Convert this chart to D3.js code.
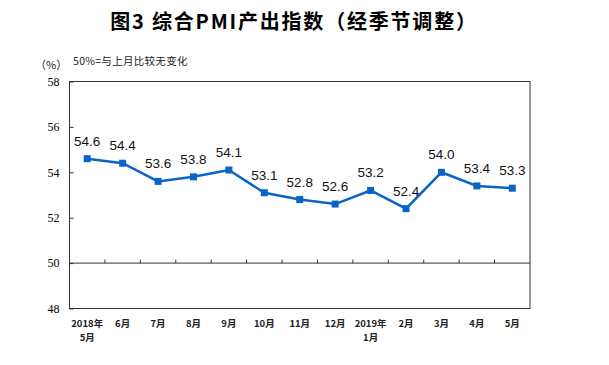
<!DOCTYPE html>
<html><head><meta charset="utf-8">
<script src="https://cdn.jsdelivr.net/npm/d3@7"></script>
<style>body{margin:0;background:#fff;}</style>
</head><body>
<svg id="c" width="609" height="365"></svg>
<script>
const categories = [["2018年","5月"],["6月"],["7月"],["8月"],["9月"],["10月"],["11月"],["12月"],["2019年","1月"],["2月"],["3月"],["4月"],["5月"]];
const values = [54.6, 54.4, 53.6, 53.8, 54.1, 53.1, 52.8, 52.6, 53.2, 52.4, 54.0, 53.4, 53.3];
const yTicks = [48, 50, 52, 54, 56, 58];
const title = "图3 综合PMI产出指数（经季节调整）";
const unitLabel = "（%）";
const note = "50%=与上月比较无变化";

const svg = d3.select("#c");
const L = 69.5, R = 530, T = 81.5, B = 308.5;
const x = d3.scaleBand().domain(d3.range(categories.length)).range([L, R]);
const y = d3.scaleLinear().domain([48, 58]).range([B, T]);

svg.append("text").attr("x", 294).attr("y", 29).attr("text-anchor", "middle")
  .attr("font-family", "Noto Sans CJK SC").attr("font-weight", "bold").attr("font-size", 20)
  .attr("letter-spacing", 1.8).attr("fill", "#000").text(title);
svg.append("text").attr("x", 35).attr("y", 69).attr("font-family", "Noto Sans CJK SC")
  .attr("font-size", 11).attr("fill", "#222").text(unitLabel);
svg.append("text").attr("x", 73).attr("y", 65).attr("font-family", "Noto Sans CJK SC")
  .attr("font-size", 10.5).attr("letter-spacing", 0.3).attr("fill", "#222").text(note);

// frame
svg.append("rect").attr("x", L).attr("y", T).attr("width", R - L).attr("height", B - T)
  .attr("fill", "none").attr("stroke", "#333").attr("stroke-width", 1);

// y axis
const ya = svg.append("g").attr("transform", `translate(${L},0)`)
  .call(d3.axisLeft(y).tickValues(yTicks).tickSize(-4).tickPadding(10));
ya.select(".domain").remove();
ya.selectAll("line").attr("stroke", "#333");
ya.selectAll("text").attr("font-family", "Liberation Serif").attr("font-size", 12).attr("fill", "#000");

// category axis at 50
const y50 = y(50);
svg.append("line").attr("x1", L).attr("x2", R).attr("y1", y50).attr("y2", y50)
  .attr("stroke", "#333").attr("stroke-width", 1);
svg.append("g").selectAll("line").data(d3.range(1, categories.length)).join("line")
  .attr("x1", i => x(i)).attr("x2", i => x(i)).attr("y1", y50).attr("y2", y50 - 3.5)
  .attr("stroke", "#333");

// x labels
const xl = svg.append("g").selectAll("text").data(categories).join("text")
  .attr("x", (d, i) => x(i) + x.bandwidth() / 2).attr("y", 327)
  .attr("text-anchor", "middle").attr("font-family", "Noto Sans CJK SC")
  .attr("font-weight", "bold").attr("font-size", 9.5).attr("fill", "#222");
xl.selectAll("tspan").data(d => d).join("tspan")
  .attr("x", function() { return this.parentNode.getAttribute("x"); })
  .attr("dy", (d, j) => j === 0 ? 0 : 14).text(d => d);

// line
const cx = i => x(i) + x.bandwidth() / 2;
svg.append("path").datum(values)
  .attr("d", d3.line().x((d, i) => cx(i)).y(d => y(d)))
  .attr("fill", "none").attr("stroke", "#0a64c8").attr("stroke-width", 2.5);
svg.append("g").selectAll("rect").data(values).join("rect")
  .attr("x", (d, i) => cx(i) - 3.5).attr("y", d => y(d) - 3.5)
  .attr("width", 7).attr("height", 7).attr("fill", "#0a64c8");
svg.append("g").selectAll("text").data(values).join("text")
  .attr("x", (d, i) => cx(i)).attr("y", d => y(d) - 13)
  .attr("text-anchor", "middle").attr("font-family", "Liberation Sans")
  .attr("font-size", 13.5).attr("fill", "#111").text(d => d.toFixed(1));
</script>
</body></html>
